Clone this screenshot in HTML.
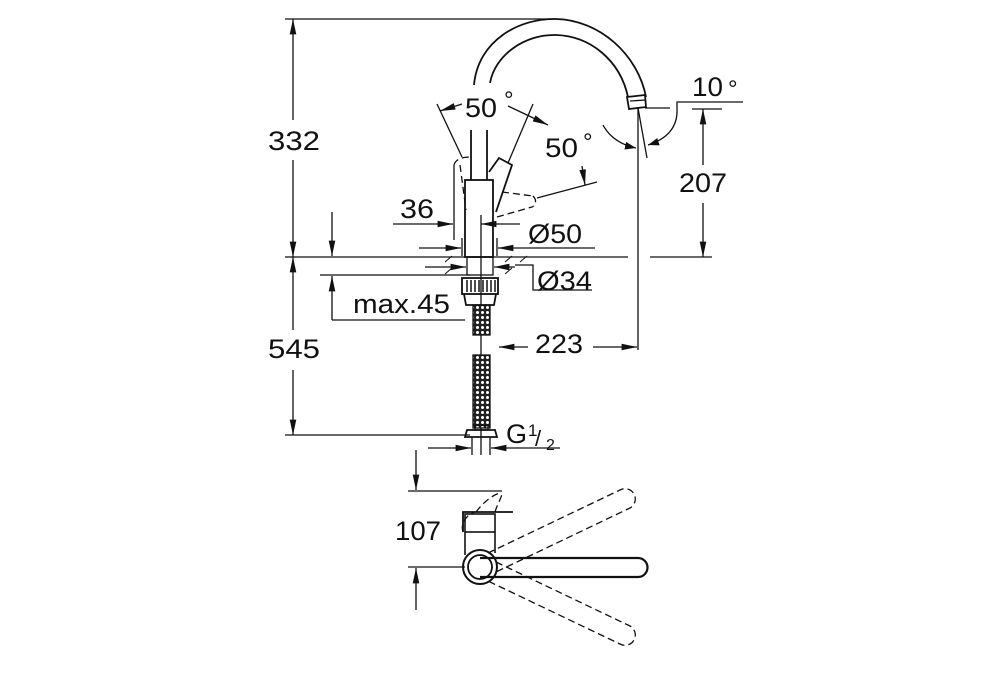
<!DOCTYPE html>
<html><head><meta charset="utf-8"><style>
html,body{margin:0;padding:0;background:#fff}
svg{display:block}
text{font-family:"Liberation Sans",sans-serif;fill:#111}
</style></head><body>
<svg width="1000" height="700" viewBox="0 0 1000 700" xmlns="http://www.w3.org/2000/svg">
<defs>
<marker id="a" viewBox="0 0 10 10" refX="10" refY="5" markerWidth="11" markerHeight="11" markerUnits="userSpaceOnUse" orient="auto-start-reverse"><path d="M0,1.5 L10,5 L0,8.5z" fill="#111"/></marker>
<marker id="b" viewBox="0 0 14 10" refX="14" refY="5" markerWidth="18" markerHeight="11" markerUnits="userSpaceOnUse" orient="auto-start-reverse"><path d="M0,2 L14,5 L0,8z" fill="#111"/></marker>
<pattern id="hose" width="5" height="5" patternUnits="userSpaceOnUse"><rect width="5" height="5" fill="#222"/><circle cx="2.5" cy="2.5" r="1.5" fill="#fff"/></pattern>
</defs>
<g stroke="#111" stroke-width="1.3" fill="none">
<line x1="285" y1="19" x2="555" y2="19"/>
<line x1="285" y1="257" x2="628" y2="257"/>
<line x1="650" y1="257" x2="712" y2="257"/>
<line x1="285" y1="435" x2="470" y2="435"/>
<line x1="293" y1="19" x2="293" y2="120" marker-start="url(#b)"/>
<line x1="293" y1="160" x2="293" y2="257" marker-end="url(#b)"/>
<line x1="293" y1="257" x2="293" y2="330" marker-start="url(#b)"/>
<line x1="293" y1="370" x2="293" y2="435" marker-end="url(#b)"/>
<line x1="332" y1="212" x2="332" y2="256" marker-end="url(#b)"/>
<line x1="320" y1="275" x2="470" y2="275"/>
<line x1="332" y1="320" x2="332" y2="276" marker-end="url(#b)"/>
<line x1="332" y1="320" x2="465" y2="320"/>
<path d="M474,85 C478,40 520,18 556,19 C600,20 638,55 646,97" stroke-width="1.8"/>
<path d="M490,83 C495,55 525,34 556,35 C590,36 620,60 628,97" stroke-width="1.8"/>
<path d="M627,97 L645,95 L646,107 L629,109 Z" stroke-width="1.8"/>
<line x1="630" y1="101" x2="646" y2="100"/>
<line x1="638" y1="108" x2="638" y2="350"/>
<line x1="638" y1="108" x2="647" y2="158"/>
<line x1="645" y1="108" x2="670" y2="108"/>
<polyline points="743,102 677,102 677,108"/>
<path d="M677,108 C678,125 670,138 648,145" marker-end="url(#a)"/>
<path d="M603,125 C610,138 622,145 636,148" marker-end="url(#a)"/>
<line x1="692" y1="109" x2="722" y2="109"/>
<line x1="703" y1="109" x2="703" y2="165" marker-start="url(#b)"/>
<line x1="703" y1="203" x2="703" y2="257" marker-end="url(#b)"/>
<line x1="499" y1="347" x2="528" y2="347" marker-start="url(#b)"/>
<line x1="593" y1="347" x2="637" y2="347" marker-end="url(#b)"/>
<rect x="465" y="180" width="28" height="77" stroke-width="1.8"/>
<line x1="471" y1="130" x2="471" y2="180" stroke-width="1.8"/>
<line x1="487" y1="130" x2="487" y2="180" stroke-width="1.8"/>
<line x1="481" y1="215" x2="481" y2="455"/>
<path d="M489,172 L499,158 L512,165 L496,212" stroke-width="1.8"/>
<line x1="437" y1="104" x2="462" y2="157"/>
<line x1="533" y1="104" x2="508" y2="163"/>
<line x1="462" y1="104" x2="440" y2="111" marker-end="url(#b)"/>
<line x1="508" y1="106" x2="548" y2="125" marker-end="url(#b)"/>
<line x1="537" y1="198" x2="597" y2="182"/>
<line x1="582" y1="166" x2="585" y2="185" marker-end="url(#b)"/>
<g stroke-dasharray="7,4">
<path d="M454,165 C456,158 464,157 471,157"/>
<line x1="460" y1="165" x2="466" y2="210"/>
<line x1="502" y1="192" x2="533" y2="196"/>
<line x1="497" y1="217" x2="532" y2="207"/>
<path d="M533,196 C537,200 536,205 532,207"/>
</g>
<line x1="454" y1="165" x2="454" y2="240"/>
<line x1="393" y1="224" x2="453" y2="224" marker-end="url(#b)"/>
<line x1="520" y1="224" x2="481" y2="224" marker-end="url(#b)"/>
<line x1="462" y1="238" x2="462" y2="256"/>
<line x1="497" y1="238" x2="497" y2="256"/>
<line x1="419" y1="248" x2="461" y2="248" marker-end="url(#b)"/>
<line x1="595" y1="248" x2="498" y2="248" marker-end="url(#b)"/>
<rect x="467" y="257" width="26" height="18"/>
<line x1="425" y1="267" x2="466" y2="267" marker-end="url(#b)"/>
<line x1="515" y1="267" x2="494" y2="267" marker-end="url(#b)"/>
<polyline points="515,265 533,265 533,290 592,290"/>
<g stroke-width="1"><line x1="445" y1="262" x2="452" y2="256"/><line x1="445" y1="274" x2="452" y2="268"/><line x1="505" y1="262" x2="512" y2="256"/><line x1="505" y1="274" x2="512" y2="268"/><line x1="520" y1="262" x2="527" y2="256"/></g>
<rect x="462" y="278" width="36" height="16" stroke-width="1.8"/>
<g stroke-width="1.5"><line x1="467" y1="280" x2="467" y2="292"/><line x1="471" y1="280" x2="471" y2="292"/><line x1="475" y1="280" x2="475" y2="292"/><line x1="479" y1="280" x2="479" y2="292"/><line x1="483" y1="280" x2="483" y2="292"/><line x1="487" y1="280" x2="487" y2="292"/><line x1="491" y1="280" x2="491" y2="292"/><line x1="495" y1="280" x2="495" y2="292"/></g>
<path d="M464,294 L466,305 L494,305 L496,294" stroke-width="1.8"/>
<rect x="473" y="305" width="17" height="30" fill="url(#hose)"/>
<rect x="473" y="355" width="17" height="73" fill="url(#hose)"/>
<rect x="475" y="425" width="13" height="5"/>
<path d="M467,430 L495,430 L497,437 L465,437 Z" stroke-width="1.8"/>
<line x1="472" y1="437" x2="472" y2="455"/>
<line x1="490" y1="437" x2="490" y2="455"/>
<line x1="428" y1="448" x2="471" y2="448" marker-end="url(#b)"/>
<line x1="560" y1="448" x2="491" y2="448" marker-end="url(#b)"/>
<line x1="416" y1="450" x2="416" y2="490" marker-end="url(#b)"/>
<line x1="408" y1="491" x2="502" y2="491"/>
<line x1="408" y1="567" x2="465" y2="567"/>
<line x1="416" y1="610" x2="416" y2="568" marker-end="url(#b)"/>
<path d="M463,532 L463,512 L513,512" stroke-width="1.8"/>
<rect x="465" y="514" width="30" height="18" stroke-width="1.6"/>
<line x1="465" y1="532" x2="465" y2="555" stroke-width="1.6"/>
<line x1="495" y1="532" x2="495" y2="553" stroke-width="1.6"/>
<circle cx="480" cy="567" r="17" stroke-width="2"/>
<circle cx="480" cy="567" r="12" stroke-width="1.8"/>
<path d="M480,558 L638,558 A9.5,9.5 0 0 1 638,577 L480,577" stroke-width="2.2"/>
<g stroke-dasharray="7,4">
<path d="M463,532 C460,522 468,514 475,512 M476,512 C485,500 495,494 500,493 M495,512 C497,505 502,497 502,493"/>
<path d="M488,553 L620,490 A10,10 0 0 1 630,508 L496,572"/>
<path d="M496,562 L630,626 A10,10 0 0 1 620,644 L488,581"/>
</g>
</g>
<g font-size="27">
<text x="268" y="150" textLength="52" lengthAdjust="spacingAndGlyphs">332</text>
<text x="268" y="358" textLength="52" lengthAdjust="spacingAndGlyphs">545</text>
<text x="353" y="313" textLength="97" lengthAdjust="spacingAndGlyphs">max.45</text>
<text x="465" y="117" textLength="32" lengthAdjust="spacingAndGlyphs">50</text>
<text x="545" y="157" textLength="33" lengthAdjust="spacingAndGlyphs">50</text>
<text x="400" y="218" textLength="34" lengthAdjust="spacingAndGlyphs">36</text>
<text x="528" y="243" textLength="54" lengthAdjust="spacingAndGlyphs">Ø50</text>
<text x="537" y="290" textLength="55" lengthAdjust="spacingAndGlyphs">Ø34</text>
<text x="535" y="353" textLength="48" lengthAdjust="spacingAndGlyphs">223</text>
<text x="679" y="192" textLength="48" lengthAdjust="spacingAndGlyphs">207</text>
<text x="692" y="96" textLength="31" lengthAdjust="spacingAndGlyphs">10</text>
<text x="506" y="443">G</text>
<text x="395" y="540" textLength="46" lengthAdjust="spacingAndGlyphs">107</text>
</g>
<g font-size="24">
<text x="504" y="108">°</text>
<text x="583" y="150">°</text>
<text x="728" y="97">°</text>
</g>
<text x="528" y="436" font-size="17">1</text>
<text x="535" y="446" font-size="22">/</text>
<text x="546" y="450" font-size="16">2</text>
</svg>
</body></html>
